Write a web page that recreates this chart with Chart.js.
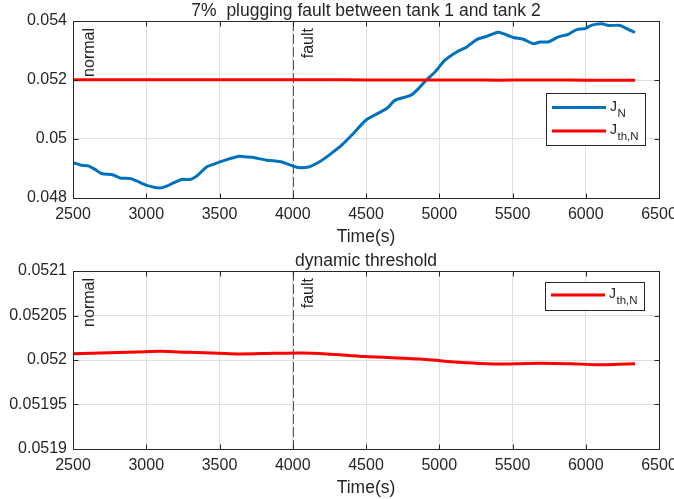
<!DOCTYPE html>
<html>
<head>
<meta charset="utf-8">
<script src="https://cdn.jsdelivr.net/npm/chart.js@4.4.1/dist/chart.umd.min.js"></script>
<style>
  html, body { margin: 0; padding: 0; background: #fff; overflow: hidden; }
  #wrap { position: relative; width: 674px; height: 499px; }
  canvas { position: absolute; left: 0; }
</style>
</head>
<body>
<div id="wrap">
  <canvas id="c1" width="674" height="250" style="top:0"></canvas>
  <canvas id="c2" width="674" height="249" style="top:250px"></canvas>
</div>
<script>
// ---------- data ----------
const titleTop = "7%  plugging fault between tank 1 and tank 2";
const titleBottom = "dynamic threshold";
const xAxisTitle = "Time(s)";
const xTicks = [2500, 3000, 3500, 4000, 4500, 5000, 5500, 6000, 6500];
const xTickLabels = ["2500", "3000", "3500", "4000", "4500", "5000", "5500", "6000", "6500"];
const yTicksTop = [0.048, 0.05, 0.052, 0.054];
const yTickLabelsTop = ["0.048", "0.05", "0.052", "0.054"];
const yTicksBottom = [0.0519, 0.05195, 0.052, 0.05205, 0.0521];
const yTickLabelsBottom = ["0.0519", "0.05195", "0.052", "0.05205", "0.0521"];
const faultTime = 4000;
const noteNormalX = 2615;
const noteFaultX = 4110;

const jnTime = [2500,2559,2604,2650,2695,2775,2820,2889,2934,3003,3094,3139,3185,3242,3299,3344,3412,3458,3549,3629,3686,3731,3822,3868,3925,4004,4038,4107,4186,4255,4334,4413,4505,4641,4698,4812,4914,4971,5039,5130,5188,5256,5324,5403,5437,5506,5574,5642,5688,5745,5813,5881,5938,5995,6041,6109,6155,6234,6280,6336];
const jnValue = [0.04920,0.04911,0.04909,0.04897,0.04883,0.04878,0.04868,0.04866,0.04858,0.04843,0.04834,0.04840,0.04851,0.04863,0.04863,0.04874,0.04905,0.04914,0.04930,0.04941,0.04939,0.04937,0.04928,0.04926,0.04922,0.04908,0.04903,0.04905,0.04924,0.04948,0.04979,0.05018,0.05066,0.05103,0.05131,0.05150,0.05201,0.05227,0.05267,0.05298,0.05312,0.05337,0.05348,0.05362,0.05357,0.05344,0.05338,0.05323,0.05329,0.05329,0.05346,0.05355,0.05371,0.05374,0.05386,0.05391,0.05385,0.05385,0.05374,0.05361];

const jthTime = [2500,2750,2998,3101,3291,3496,3643,3877,4053,4229,4493,4756,4874,5020,5225,5401,5606,5782,5899,6075,6222,6336];
const jthValue = [0.0520071,0.0520082,0.0520094,0.0520098,0.0520086,0.0520075,0.0520068,0.0520075,0.0520079,0.0520068,0.0520038,0.0520019,0.0520011,0.0519989,0.0519966,0.0519955,0.0519962,0.0519962,0.0519959,0.0519947,0.0519951,0.0519957];

// ---------- styling ----------
const FONT = '"Liberation Sans", Arial, Helvetica, sans-serif';
const TXT = '#262626';
const BLUE = '#0072BD';
const RED = '#FF0000';
const GRID = '#dfdfdf';

function pts(t, v) { return t.map((x, i) => ({ x: x, y: v[i] })); }

function decorPlugin(cfg) {
  return {
    id: 'decor',
    beforeDatasetsDraw(chart) {
      const ctx = chart.ctx, a = chart.chartArea, xs = chart.scales.x;
      const px = Math.round(xs.getPixelForValue(faultTime)) + 0.5;
      ctx.save();
      ctx.strokeStyle = '#555555';
      ctx.lineWidth = 1;
      ctx.setLineDash([10, 3]);
      ctx.beginPath(); ctx.moveTo(px, a.top); ctx.lineTo(px, a.bottom); ctx.stroke();
      ctx.restore();
    },
    afterDraw(chart) {
      const ctx = chart.ctx, a = chart.chartArea, xs = chart.scales.x, ys = chart.scales.y;
      ctx.save();
      // box
      ctx.strokeStyle = TXT; ctx.lineWidth = 1;
      const L = Math.round(a.left) + 0.5, R = Math.round(a.right) + 0.5, T = Math.round(a.top) + 0.5, B = Math.round(a.bottom) + 0.5;
      ctx.strokeRect(L, T, R - L, B - T);
      // inner ticks
      ctx.beginPath();
      cfg.xt.forEach(v => {
        const p = Math.round(xs.getPixelForValue(v)) + 0.5;
        ctx.moveTo(p, B); ctx.lineTo(p, B - 5);
        ctx.moveTo(p, T); ctx.lineTo(p, T + 5);
      });
      cfg.yt.forEach(v => {
        const p = Math.round(ys.getPixelForValue(v)) + 0.5;
        ctx.moveTo(L, p); ctx.lineTo(L + 5, p);
        ctx.moveTo(R, p); ctx.lineTo(R - 5, p);
      });
      ctx.stroke();
      // title
      ctx.fillStyle = TXT;
      ctx.textAlign = 'center'; ctx.textBaseline = 'alphabetic';
      ctx.font = '17.5px ' + FONT;
      const cx = (a.left + a.right) / 2;
      ctx.fillText(cfg.title, cx, a.top - 5.5);
      ctx.fillText(xAxisTitle, cx, a.bottom + 44);
      // annotations
      ctx.font = '16px ' + FONT;
      [[noteNormalX, 'normal'], [noteFaultX, 'fault']].forEach(([v, s]) => {
        ctx.save();
        ctx.translate(xs.getPixelForValue(v), a.top + 7);
        ctx.rotate(-Math.PI / 2);
        ctx.textAlign = 'right'; ctx.textBaseline = 'middle';
        ctx.fillText(s, 0, 0);
        ctx.restore();
      });
      // legend
      const lg = cfg.legend;
      ctx.fillStyle = '#ffffff';
      ctx.fillRect(lg.x, lg.y, lg.w, lg.h);
      ctx.strokeStyle = TXT; ctx.lineWidth = 1;
      ctx.strokeRect(Math.round(lg.x) + 0.5, Math.round(lg.y) + 0.5, lg.w, lg.h);
      lg.items.forEach(it => {
        ctx.strokeStyle = it.color; ctx.lineWidth = 3; ctx.setLineDash([]);
        ctx.beginPath(); ctx.moveTo(lg.x + 6, it.y); ctx.lineTo(lg.x + 60, it.y); ctx.stroke();
        ctx.fillStyle = TXT; ctx.textAlign = 'left'; ctx.textBaseline = 'alphabetic';
        ctx.font = '14px ' + FONT;
        ctx.fillText('J', lg.x + 64, it.y + 3);
        const jw = ctx.measureText('J').width;
        ctx.font = '11.5px ' + FONT;
        ctx.fillText(it.sub, lg.x + 64 + jw + 0.5, it.y + 9);
      });
      ctx.restore();
    }
  };
}

function makeChart(id, datasets, ymin, ymax, yt, ytl, xH, cfg) {
  return new Chart(document.getElementById(id), {
    type: 'line',
    data: { datasets: datasets },
    options: {
      responsive: false,
      animation: false,
      devicePixelRatio: 1,
      layout: { padding: { top: 21, right: 15, left: 0, bottom: 0 } },
      plugins: { legend: { display: false }, title: { display: false }, tooltip: { enabled: false } },
      elements: { point: { radius: 0 } },
      scales: {
        x: {
          type: 'linear', min: 2500, max: 6500,
          afterBuildTicks: s => { s.ticks = xTicks.map(v => ({ value: v })); },
          afterFit: s => { s.height = xH; s.paddingLeft = 0; s.paddingRight = 0; },
          ticks: {
            callback: v => xTickLabels[xTicks.indexOf(v)],
            color: TXT, font: { family: FONT, size: 16 }, padding: 7, maxRotation: 0, autoSkip: false
          },
          grid: { color: GRID, drawTicks: false },
          border: { display: false }
        },
        y: {
          type: 'linear', min: ymin, max: ymax,
          afterBuildTicks: s => { s.ticks = yt.map(v => ({ value: v })); },
          afterFit: s => { s.width = 73; s.paddingTop = 0; s.paddingBottom = 0; },
          ticks: {
            callback: (v, i) => ytl[i],
            color: TXT, font: { family: FONT, size: 16 }, padding: 6, autoSkip: false
          },
          grid: { color: GRID, drawTicks: false },
          border: { display: false }
        }
      }
    },
    plugins: [decorPlugin(Object.assign({ xt: xTicks, yt: yt }, cfg))]
  });
}

makeChart('c1', [
  { data: pts(jnTime, jnValue), borderColor: BLUE, borderWidth: 3, tension: 0.25, fill: false, order: 2 },
  { data: pts(jthTime, jthValue), borderColor: RED, borderWidth: 3, tension: 0.25, fill: false, order: 1 }
], 0.048, 0.054, yTicksTop, yTickLabelsTop, 52, {
  title: titleTop,
  legend: { x: 546, y: 93, w: 99, h: 52, items: [
    { color: BLUE, sub: 'N', y: 107.5 },
    { color: RED, sub: 'th,N', y: 131 }
  ] }
});

makeChart('c2', [
  { data: pts(jthTime, jthValue), borderColor: RED, borderWidth: 3, tension: 0.3, fill: false }
], 0.0519, 0.0521, yTicksBottom, yTickLabelsBottom, 50, {
  title: titleBottom,
  legend: { x: 545, y: 31.5, w: 99, h: 28, items: [
    { color: RED, sub: 'th,N', y: 45 }
  ] }
});
</script>
</body>
</html>
